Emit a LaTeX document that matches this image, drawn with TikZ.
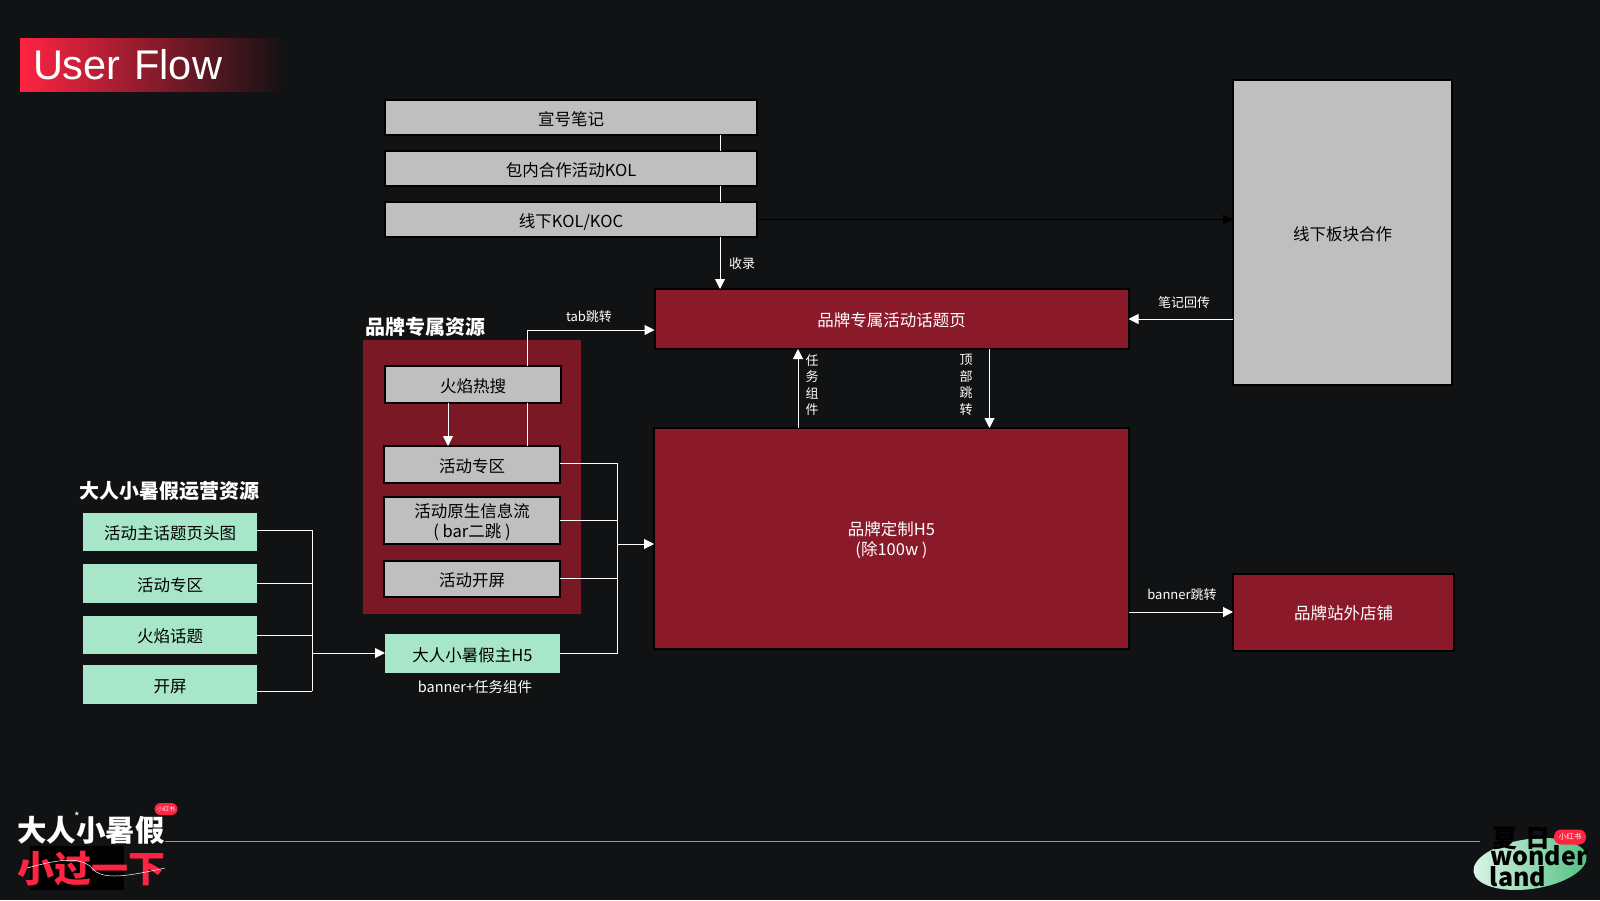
\documentclass[tikz,border=0pt]{standalone}
\usepackage{fontspec}
\setmainfont{Noto Sans CJK SC}
\newfontfamily\titlefont{Liberation Sans}
\usetikzlibrary{arrows.meta}
\definecolor{pagebg}{HTML}{111213}
\definecolor{brandred}{HTML}{8A1A2A}
\definecolor{panelred}{HTML}{7A1826}
\definecolor{boxgrey}{HTML}{BFBFBF}
\definecolor{boxgreen}{HTML}{A8E6C9}
\definecolor{hotred}{HTML}{FF2442}
\definecolor{blobleft}{HTML}{DDF4E8}
\definecolor{blobright}{HTML}{4FC07F}

\begin{document}
\begin{tikzpicture}[x=1pt,y=-1pt]
\tikzstyle{every node}=[outer sep=0pt,inner sep=0pt]
\tikzstyle{greybox}=[rectangle,draw=black,line width=2pt,fill=boxgrey,text=black,align=center,text height=17pt,text depth=2pt,font=\fontsize{16.5}{20}\selectfont]
\tikzstyle{greenbox}=[greybox,fill=boxgreen]
\tikzstyle{redbox}=[greybox,fill=brandred,text=white]
\tikzstyle{twolines}=[text height=,text depth=-2pt]
\tikzstyle{flow}=[draw=white,line width=1pt]
\tikzstyle{flowto}=[flow,-{Triangle[length=10pt,width=10pt]}]
\tikzstyle{lbl}=[text=white,align=center,font=\fontsize{13}{16.5}\selectfont]
\tikzstyle{heading}=[text=white,font=\fontsize{20}{24}\selectfont\bfseries]
\tikzstyle{badge}=[fill=hotred,rounded corners=6pt,text=white,font=\fontsize{6}{7}\selectfont]

\useasboundingbox (0,0) rectangle (1600,900);
\fill[pagebg] (0,0) rectangle (1600,900);

% title
\node[left color=hotred,right color=pagebg,minimum height=53pt,text width=240pt,inner xsep=13pt,align=left,text=white,font=\fontsize{41.5}{46}\selectfont\titlefont] (title) at (153,65) {\raisebox{1pt}{User Flow}};

% footer line
\coordinate (ruleleft) at (165,841);
\coordinate (ruleright) at (1480,841);
\draw[gray!80,line width=1pt] (ruleleft) -- (ruleright);

% top boxes
\node[greybox,minimum width=372pt,minimum height=35pt] (note) at (571,117.5) {宣号笔记};
\node[greybox,minimum width=372pt,minimum height=35pt] (kolin) at (571,168.5) {包内合作活动KOL};
\node[greybox,minimum width=372pt,minimum height=35pt] (koloff) at (571,219.5) {线下KOL/KOC};
\node[greybox,minimum width=219pt,minimum height=305pt] (offline) at (1342.5,232.5) {线下板块合作};

% red boxes
\node[redbox,minimum width=474pt,minimum height=60pt] (topic) at (891.5,319) {品牌专属活动话题页};
\node[redbox,twolines,minimum width=475pt,minimum height=221pt] (brandh) at (891.5,538.5) {品牌定制H5\\(除100w )};
\node[redbox,minimum width=221pt,minimum height=77pt] (shop) at (1343.5,612) {品牌站外店铺};

% brand resources
\node[heading] (brandtitle) at (425,327) {品牌专属资源};
\node[fill=panelred,minimum width=218pt,minimum height=274pt] (panel) at (472,477) {};
\node[greybox,minimum width=176pt,minimum height=37pt] (hot) at (473,384.5) {火焰热搜};
\node[greybox,minimum width=176pt,minimum height=37pt] (zone) at (472,464.5) {活动专区};
\node[greybox,twolines,minimum width=176pt,minimum height=47pt] (feed) at (472,520.5) {活动原生信息流\\( bar二跳 )};
\node[greybox,minimum width=176pt,minimum height=36pt] (splash) at (472,579) {活动开屏};

% operation resources
\node[heading] (optitle) at (169.5,491) {大人小暑假运营资源};
\node[greenbox,draw=none,minimum width=174pt,minimum height=38pt] (head) at (170,532) {活动主话题页头图};
\node[greenbox,draw=none,minimum width=174pt,minimum height=39pt] (opzone) at (170,583.5) {活动专区};
\node[greenbox,draw=none,minimum width=174pt,minimum height=38pt] (fire) at (170,635) {火焰话题};
\node[greenbox,draw=none,minimum width=174pt,minimum height=39pt] (opensc) at (170,684.5) {开屏};
\node[greenbox,draw=none,minimum width=175pt,minimum height=39pt] (mainh) at (472.5,653.5) {大人小暑假主H5};
\node[lbl,font=\fontsize{14.5}{17}\selectfont] (mainhnote) at (475,687) {banner+任务组件};

% connectors
\coordinate (kolx) at (720,0);
\coordinate (tabx) at (527,0);
\coordinate (hotx) at (448,0);
\coordinate (taskx) at (798,0);
\coordinate (topx) at (989.5,0);
\coordinate (lbus) at (312,653);
\coordinate (rbus) at (617,544);
\draw[flow] (note.south -| kolx) -- (kolin.north -| kolx);
\draw[flow] (kolin.south -| kolx) -- (koloff.north -| kolx);
\draw[flowto] (koloff.south -| kolx) -- (topic.north -| kolx);
\draw[flowto,draw=black] (koloff.east) -- (koloff.east -| offline.west);
\draw[flowto] (offline.west |- topic.east) -- (topic.east);
\draw[flowto] (brandh.north -| taskx) -- (topic.south -| taskx);
\draw[flowto] (topic.south -| topx) -- (brandh.north -| topx);
\draw[flowto] (brandh.east |- shop.west) -- (shop.west);
\draw[flowto] (hot.south -| hotx) -- (zone.north -| hotx);
\draw[flow] (hot.south -| tabx) -- (zone.north -| tabx);
\draw[flowto] (hot.north -| tabx) |- ([yshift=-11pt]topic.west);

\foreach \src/\shift in {head/2,opzone/0,fire/0,opensc/-6.5}
  \draw[flow] ([yshift=\shift pt]\src.east) -- ([yshift=\shift pt]\src.east -| lbus);
\draw[flow] ([yshift=2pt]head.east -| lbus) -- ([yshift=-6.5pt]opensc.east -| lbus);
\draw[flowto] (lbus) -- (lbus -| mainh.west);

\foreach \src/\shift in {zone/1.5,feed/0.5,splash/1,mainh/0}
  \draw[flow] ([yshift=\shift pt]\src.east) -- ([yshift=\shift pt]\src.east -| rbus);
\draw[flow] ([yshift=1.5pt]zone.east -| rbus) -- (mainh.east -| rbus);
\draw[flowto] (rbus) -- (rbus -| brandh.west);

% connector labels
\node[lbl] (lblrecord) at (742,264) {收录};
\node[lbl] (lbltab) at (589,317) {tab跳转};
\node[lbl] (lblback) at (1184,303) {笔记回传};
\node[lbl] (lbltask) at (812,385) {任\\务\\组\\件};
\node[lbl] (lbltop) at (966,385) {顶\\部\\跳\\转};
\node[lbl] (lblbanner) at (1182,595) {banner跳转};

% logo left
\node[text=white,font=\fontsize{29.5}{32}\selectfont\bfseries] (logotop) at (91,830) {大人小暑假};
\fill[black] (30,846) rectangle (124,890);
\node[text=hotred,font=\fontsize{37}{40}\selectfont\bfseries] (logobottom) at (91,869) {小过一下};
\draw[white,line width=0.5pt] (27,868) .. controls (50,862) and (75,855) .. (90,866) .. controls (100,880) and (120,878) .. (165,868);
\node[text=white,font=\fontsize{12}{13}\selectfont,text height=5pt,text depth=0pt] (logostar) at (77,819) {*};
\node[badge,minimum width=23pt,minimum height=12pt] (logobadge) at (166,809) {小红书};

% logo right
\shade[left color=blobleft,right color=blobright,rotate around={8:(1530,864)}] (1530,864) ellipse (57pt and 25pt);
\node[text=black,font=\fontsize{25}{30}\selectfont\bfseries,text height=18pt,text depth=0pt] (wondertop) at (1521,838) {夏\kern8pt日};
\node[text=black,font=\fontsize{25}{28}\selectfont\bfseries,text height=16pt,text depth=0pt] (wondermid) at (1539,857) {wonder};
\node[text=black,font=\fontsize{25}{28}\selectfont\bfseries,text height=18pt,text depth=0pt] (wonderlow) at (1518,877) {land};
\node[badge,minimum width=32pt,minimum height=15pt,rounded corners=7pt,font=\fontsize{7.5}{8}\selectfont] (wonderbadge) at (1570,837) {小红书};
\end{tikzpicture}
\end{document}
